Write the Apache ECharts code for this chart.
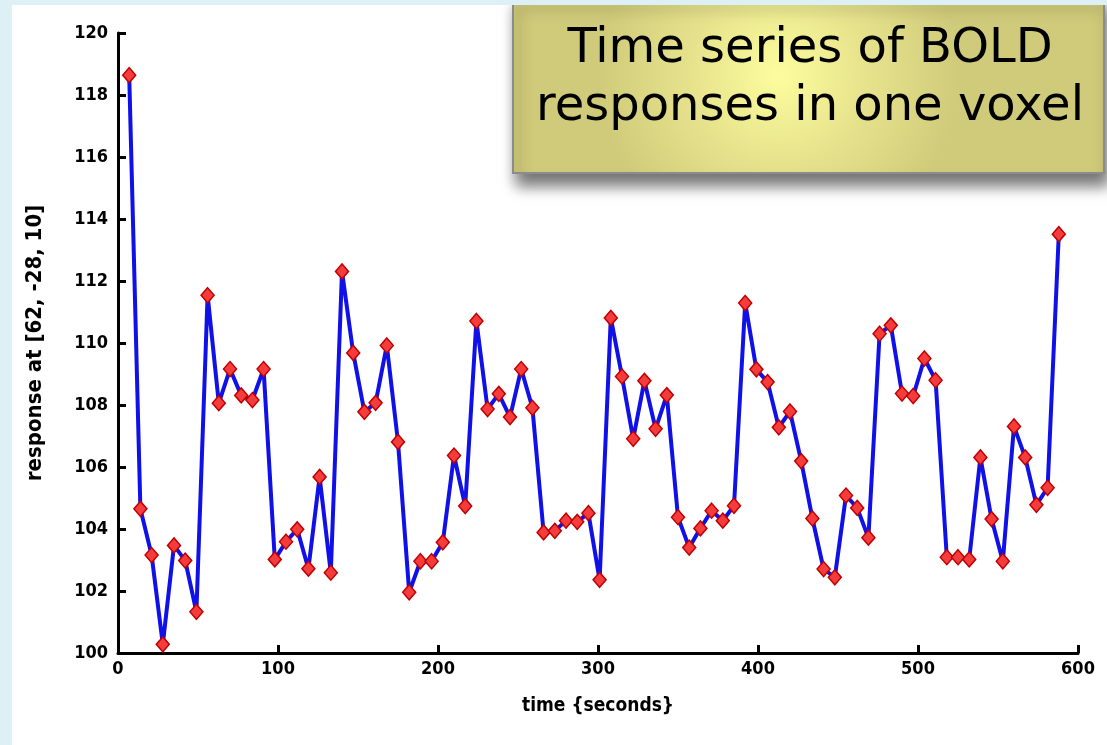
<!DOCTYPE html>
<html>
<head>
<meta charset="utf-8">
<title>BOLD time series</title>
<script src="https://cdn.jsdelivr.net/npm/echarts@6/dist/echarts.min.js"></script>
<style>
  html, body { margin: 0; padding: 0; background: #dcf0f5; }
  #wrap { position: relative; width: 1107px; height: 745px; overflow: hidden; }
  #chart { position: absolute; left: 12px; top: 5px; width: 1095px; height: 740px; background: #ffffff; }
</style>
</head>
<body>
<div id="wrap"><div id="chart"></div></div>
<script>
// time of each scan (seconds)
const times = [
  7, 14, 21, 28, 35, 42, 49, 56, 63, 70, 77, 84, 91, 98, 105, 112, 119, 126, 133, 140,
  147, 154, 161, 168, 175, 182, 189, 196, 203, 210, 217, 224, 231, 238, 245, 252, 259, 266, 273, 280,
  287, 294, 301, 308, 315, 322, 329, 336, 343, 350, 357, 364, 371, 378, 385, 392, 399, 406, 413, 420,
  427, 434, 441, 448, 455, 462, 469, 476, 483, 490, 497, 504, 511, 518, 525, 532, 539, 546, 553, 560,
  567, 574, 581, 588
]
// BOLD response at voxel [62, -28, 10]
const responses = [
  118.64, 104.65, 103.16, 100.28, 103.47, 102.98, 101.33, 111.54, 108.06, 109.16,
  108.31, 108.16, 109.16, 103.02, 103.59, 103.99, 102.72, 105.68, 102.59, 112.31,
  109.68, 107.78, 108.07, 109.92, 106.81, 101.96, 102.96, 102.96, 103.57, 106.37,
  104.74, 110.71, 107.87, 108.36, 107.61, 109.16, 107.91, 103.89, 103.94, 104.27,
  104.23, 104.51, 102.36, 110.81, 108.92, 106.91, 108.78, 107.23, 108.32, 104.38,
  103.40, 104.02, 104.59, 104.27, 104.75, 111.29, 109.15, 108.74, 107.28, 107.79,
  106.19, 104.34, 102.71, 102.44, 105.08, 104.68, 103.72, 110.30, 110.57, 108.37,
  108.29, 109.50, 108.80, 103.09, 103.09, 103.02, 106.31, 104.32, 102.96, 107.31,
  106.31, 104.78, 105.33, 113.51
]
const xTicks = [0, 100, 200, 300, 400, 500, 600]
const yTicks = [100, 102, 104, 106, 108, 110, 112, 114, 116, 118, 120]

const labelFont = "'Liberation Sans Narrow', 'DejaVu Sans Condensed', Arial, sans-serif"

const myChart = echarts.init(document.getElementById('chart'))

const option = {
  animation: false,
  grid: { left: 106, right: 29, top: 28, bottom: 92 },
  xAxis: {
    type: 'value',
    min: xTicks[0],
    max: xTicks[xTicks.length - 1],
    interval: 100,
    name: 'time {seconds}',
    nameLocation: 'middle',
    nameGap: 44,
    nameTextStyle: { color: '#000', fontFamily: labelFont, fontWeight: 'bold', fontSize: 19 },
    axisLine: { lineStyle: { color: '#000', width: 3 } },
    axisTick: { inside: true, length: 8, lineStyle: { color: '#000', width: 3 } },
    axisLabel: { color: '#000', fontFamily: labelFont, fontWeight: 'bold', fontSize: 18, margin: 7 },
    splitLine: { show: false }
  },
  yAxis: {
    type: 'value',
    min: yTicks[0],
    max: yTicks[yTicks.length - 1],
    interval: 2,
    name: 'response at [62, -28, 10]',
    nameLocation: 'middle',
    nameGap: 72,
    nameRotate: 90,
    nameTextStyle: { color: '#000', fontFamily: labelFont, fontWeight: 'bold', fontSize: 22 },
    axisLine: { show: true, lineStyle: { color: '#000', width: 3 } },
    axisTick: { show: true, inside: true, length: 8, lineStyle: { color: '#000', width: 3 } },
    axisLabel: { color: '#000', fontFamily: labelFont, fontWeight: 'bold', fontSize: 18, margin: 10 },
    splitLine: { show: false }
  },
  series: [
    {
      type: 'line',
      data: times.map((t, i) => [t, responses[i]]),
      symbol: 'diamond',
      symbolSize: [13, 15],
      lineStyle: { color: '#1010e8', width: 4 },
      itemStyle: { color: '#f53c3c', borderColor: '#c00000', borderWidth: 1.5 },
      z: 3
    }
  ],
  // yellow caption box at the top right
  graphic: [
    {
      type: 'rect',
      z: 100,
      shape: { x: 501, y: -10, width: 591, height: 178 },
      style: {
        fill: new echarts.graphic.RadialGradient(0.45, 0.45, 1.0, [
          { offset: 0, color: '#fdfd9e' },
          { offset: 0.5, color: '#e6e28c' },
          { offset: 1, color: '#d0cb7a' }
        ]),
        stroke: '#8c8c8c',
        lineWidth: 2,
        shadowBlur: 14,
        shadowOffsetX: 4,
        shadowOffsetY: 12,
        shadowColor: 'rgba(0,0,0,0.55)'
      }
    },
    {
      type: 'text',
      z: 101,
      x: 798,
      y: 16,
      style: {
        text: 'Time series of BOLD\nresponses in one voxel',
        fill: '#000',
        font: "48px 'DejaVu Sans', Verdana, sans-serif",
        lineHeight: 58,
        align: 'center',
        verticalAlign: 'top'
      }
    }
  ]
}
myChart.setOption(option)
</script>
</body>
</html>
